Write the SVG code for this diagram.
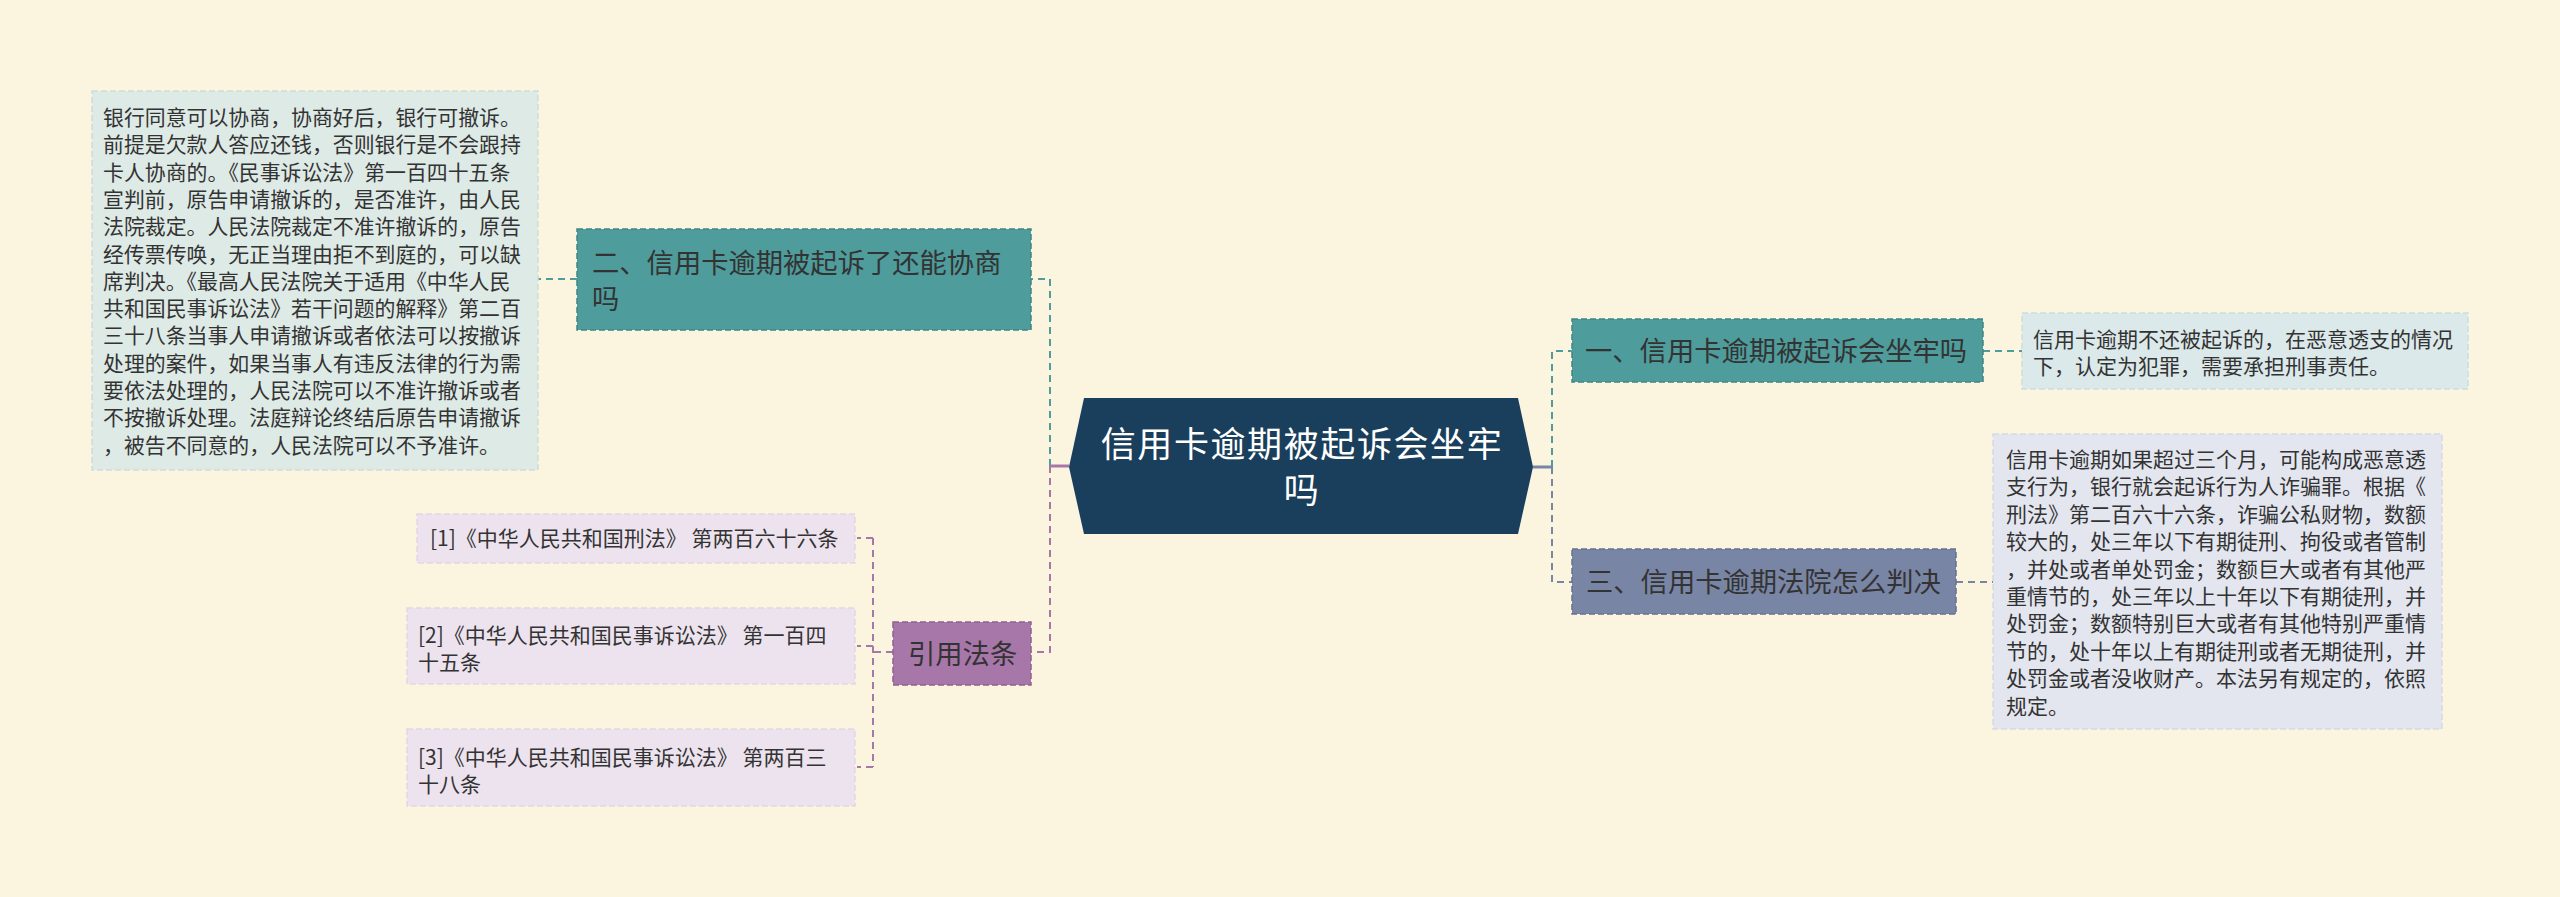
<svg xmlns="http://www.w3.org/2000/svg" width="2560" height="897" viewBox="0 0 2560 897">
<style>
text{font-family:"Noto Sans CJK SC","Noto Sans",sans-serif;fill:#333333}
.c{fill:none;stroke-width:2;stroke-dasharray:7 5}
.teal{stroke:#4e9c9c}
.pur{stroke:#a877a9}
.sla{stroke:#7985a4}
.box{stroke-width:1.5;stroke-dasharray:6 3}
.t20{font-size:20.9px}
.t21{font-size:21px}
.t27{font-size:27.3px}
.ct{font-size:35px;fill:#ffffff;letter-spacing:1.6px}
</style>
<rect x="0" y="0" width="2560" height="897" fill="#fbf5e0"/>
<g id="connectors">
<path class="c teal" d="M1050 466 V279 H1031"/>
<path class="c teal" d="M577 279 H538"/>
<path class="c pur" d="M1050 466 V652 H1031"/>
<path class="c pur" d="M893 652 H873 M873 538 V767 M873 538 H857 M873 646 H857 M873 767 H857"/>
<path d="M1069 466 H1050" stroke="#a877a9" stroke-width="3" fill="none"/>
<path class="c teal" d="M1552 467 V351 H1572"/>
<path class="c teal" d="M1983 351 H2022"/>
<path class="c sla" d="M1552 467 V582 H1572"/>
<path class="c sla" d="M1956 582 H1993"/>
<path d="M1533 467 H1552" stroke="#7985a4" stroke-width="3" fill="none"/>
</g>
<g id="center">
<polygon points="1084,398 1518,398 1533,467 1518,534 1084,534 1069,467" fill="#1a3f5c"/>
<text class="ct" x="1302" y="457" text-anchor="middle">信用卡逾期被起诉会坐牢</text>
<text class="ct" x="1302" y="503" text-anchor="middle">吗</text>
</g>
<g id="node2">
<rect class="box" x="577" y="229" width="454" height="101" fill="#4e9c9c" stroke="#3f8585"/>
<text class="t27" x="592" y="273">二、信用卡逾期被起诉了还能协商</text>
<text class="t27" x="592" y="309">吗</text>
</g>
<g id="node2text">
<rect class="box" x="92" y="91" width="446" height="379" fill="#deeae6" stroke="#cfdcd8"/>
<text class="t20" x="103" y="125">银行同意可以协商，协商好后，银行可撤诉。</text>
<text class="t20" x="103" y="152.3">前提是欠款人答应还钱，否则银行是不会跟持</text>
<text class="t20" x="103" y="179.6">卡人协商的。《民事诉讼法》第一百四十五条</text>
<text class="t20" x="103" y="206.9">宣判前，原告申请撤诉的，是否准许，由人民</text>
<text class="t20" x="103" y="234.2">法院裁定。人民法院裁定不准许撤诉的，原告</text>
<text class="t20" x="103" y="261.5">经传票传唤，无正当理由拒不到庭的，可以缺</text>
<text class="t20" x="103" y="288.8">席判决。《最高人民法院关于适用《中华人民</text>
<text class="t20" x="103" y="316.1">共和国民事诉讼法》若干问题的解释》第二百</text>
<text class="t20" x="103" y="343.4">三十八条当事人申请撤诉或者依法可以按撤诉</text>
<text class="t20" x="103" y="370.7">处理的案件，如果当事人有违反法律的行为需</text>
<text class="t20" x="103" y="398">要依法处理的，人民法院可以不准许撤诉或者</text>
<text class="t20" x="103" y="425.3">不按撤诉处理。法庭辩论终结后原告申请撤诉</text>
<text class="t20" x="103" y="452.6">，被告不同意的，人民法院可以不予准许。</text>
</g>
<g id="cite">
<rect class="box" x="893" y="622" width="138" height="63" fill="#a877a9" stroke="#8f6290"/>
<text class="t27" x="908" y="664">引用法条</text>
</g>
<g id="cite1">
<rect class="box" x="417" y="514" width="438" height="49" fill="#ede3ee" stroke="#e2d6e4"/>
<text class="t21" x="430" y="546">[1]《中华人民共和国刑法》 第两百六十六条</text>
</g>
<g id="cite2">
<rect class="box" x="407" y="608" width="448" height="76" fill="#ede3ee" stroke="#e2d6e4"/>
<text class="t21" x="418" y="643">[2]《中华人民共和国民事诉讼法》 第一百四</text>
<text class="t21" x="418" y="670">十五条</text>
</g>
<g id="cite3">
<rect class="box" x="407" y="729" width="448" height="77" fill="#ede3ee" stroke="#e2d6e4"/>
<text class="t21" x="418" y="765">[3]《中华人民共和国民事诉讼法》 第两百三</text>
<text class="t21" x="418" y="792">十八条</text>
</g>
<g id="node1">
<rect class="box" x="1572" y="319" width="411" height="63" fill="#4e9c9c" stroke="#3f8585"/>
<text class="t27" x="1585" y="361">一、信用卡逾期被起诉会坐牢吗</text>
</g>
<g id="node1text">
<rect class="box" x="2022" y="313" width="446" height="76" fill="#dce9ea" stroke="#cddcdd"/>
<text class="t21" x="2033" y="347">信用卡逾期不还被起诉的，在恶意透支的情况</text>
<text class="t21" x="2033" y="374">下，认定为犯罪，需要承担刑事责任。</text>
</g>
<g id="node3">
<rect class="box" x="1572" y="549" width="384" height="65" fill="#7985a4" stroke="#66718f"/>
<text class="t27" x="1586" y="592">三、信用卡逾期法院怎么判决</text>
</g>
<g id="node3text">
<rect class="box" x="1993" y="434" width="449" height="295" fill="#e3e6ef" stroke="#d6d9e3"/>
<text class="t21" x="2006" y="467">信用卡逾期如果超过三个月，可能构成恶意透</text>
<text class="t21" x="2006" y="494.4">支行为，银行就会起诉行为人诈骗罪。根据《</text>
<text class="t21" x="2006" y="521.8">刑法》第二百六十六条，诈骗公私财物，数额</text>
<text class="t21" x="2006" y="549.2">较大的，处三年以下有期徒刑、拘役或者管制</text>
<text class="t21" x="2006" y="576.6">，并处或者单处罚金；数额巨大或者有其他严</text>
<text class="t21" x="2006" y="604">重情节的，处三年以上十年以下有期徒刑，并</text>
<text class="t21" x="2006" y="631.4">处罚金；数额特别巨大或者有其他特别严重情</text>
<text class="t21" x="2006" y="658.8">节的，处十年以上有期徒刑或者无期徒刑，并</text>
<text class="t21" x="2006" y="686.2">处罚金或者没收财产。本法另有规定的，依照</text>
<text class="t21" x="2006" y="713.6">规定。</text>
</g>
</svg>
